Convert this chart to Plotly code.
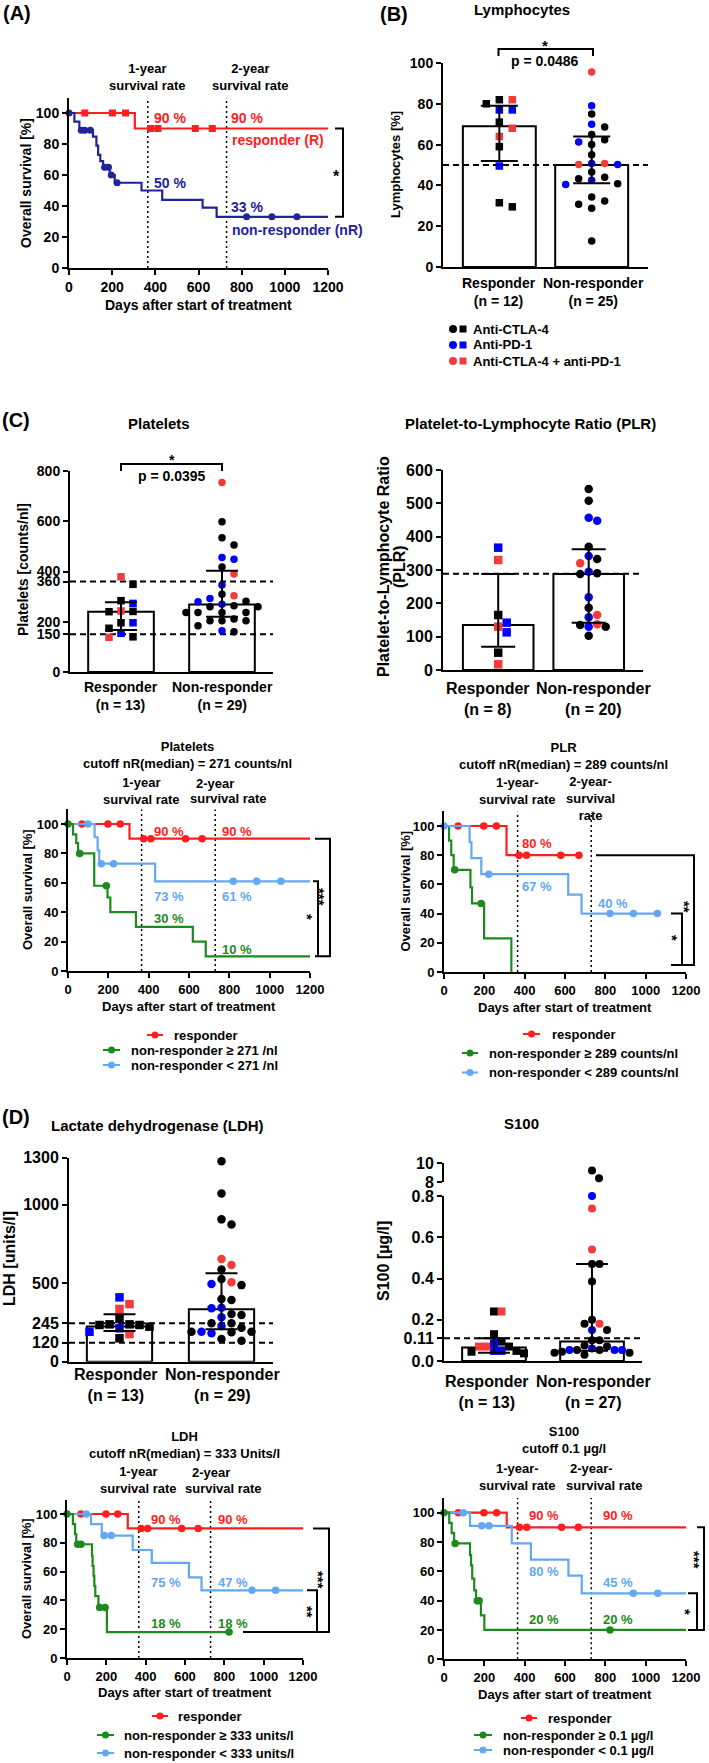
import plotly.graph_objects as go

W, H = 709, 1763
FONT = "Liberation Sans, Arial, sans-serif"
RED = '#FF1E1E'; GREEN = '#1C8A1C'; LBLUE = '#62A8F2'; NAVY = '#22229A'
TX_COL = {'C': '#000000', 'P': '#0000FF', 'B': '#F23C3C'}

# ---------------- DATA ----------------
# Panel A  (Kaplan-Meier responder vs non-responder)
A_R_t = [0, 305, 1200]
A_R_s = [100, 90, 90]
A_R_ct = [73, 201, 262, 378, 412, 585, 664]
A_R_cs = [100, 100, 100, 90, 90, 90, 90]
A_N_t = [0, 25, 48, 111, 127, 135, 145, 158, 189, 212, 336, 432, 619, 684, 1200]
A_N_s = [100, 94.4, 88.9, 84.7, 79, 73, 69, 65, 60, 55, 50, 44, 39, 33, 33]
A_N_ct = [0, 57, 73, 99, 165, 183, 196, 223, 823, 940, 1056]
A_N_cs = [100, 88.9, 88.9, 88.9, 65, 65, 60, 55, 33, 33, 33]

# Panel B  Lymphocytes [%]   (C = anti-CTLA-4, P = anti-PD-1, B = both)
B_med = [69, 50]; B_lo = [52, 41]; B_hi = [79, 64]
B_R_vals = [82, 77, 80, 82, 77, 71, 68, 64, 59, 49.5, 29.5, 31.5]
B_R_tx = ['C', 'P', 'C', 'B', 'P', 'C', 'B', 'B', 'C', 'P', 'C', 'C']
B_N_vals = [95.6, 79, 75, 70, 68.6, 62.4, 65, 61.3, 60, 55, 50.7, 50.2, 50.2, 50.7,
            46.6, 44, 43.3, 42.5, 40.8, 40.5, 34.3, 30.7, 32.4, 28.8, 12.7]
B_N_tx = ['B', 'P', 'C', 'P', 'C', 'C', 'C', 'P', 'C', 'C', 'P', 'B', 'P', 'B',
          'C', 'C', 'C', 'P', 'C', 'P', 'C', 'C', 'C', 'C', 'C']

# Platelets [counts/nl]
P_med = [240, 269]; P_lo = [167, 220]; P_hi = [278, 403]
P_R_vals = [379, 349, 284, 273, 243, 240, 241, 196, 196, 174, 154, 138, 140]
P_R_tx = ['B', 'C', 'C', 'P', 'B', 'C', 'C', 'C', 'P', 'C', 'P', 'B', 'C']
P_N_vals = [754, 598, 534, 505, 449, 456, 418, 390, 346, 309, 303, 293, 282, 280, 270,
            260, 264, 260, 237, 237, 237, 204, 204, 204, 211, 184, 160, 164, 237]
P_N_tx = ['B', 'C', 'C', 'C', 'P', 'P', 'C', 'B', 'P', 'C', 'B', 'P', 'C', 'P', 'P',
          'C', 'C', 'C', 'C', 'C', 'C', 'C', 'C', 'C', 'C', 'C', 'C', 'P', 'C']

# PLR
Q_med = [135, 288]; Q_lo = [70, 142]; Q_hi = [288, 362]
Q_R_vals = [367, 330, 165, 142, 113, 130, 52, 17]
Q_R_tx = ['P', 'B', 'C', 'P', 'P', 'B', 'C', 'B']
Q_N_vals = [543, 508, 457, 448, 370, 342, 333, 320, 288, 290, 295, 218, 187, 165, 158,
            137, 130, 135, 130, 103]
Q_N_tx = ['C', 'C', 'P', 'P', 'C', 'P', 'C', 'B', 'C', 'C', 'P', 'P', 'C', 'B', 'P',
          'B', 'P', 'C', 'C', 'C']

# LDH [units/l]
D_med = [225, 334]; D_lo = [195, 206]; D_hi = [302, 563]
D_R_vals = [410, 336, 367, 238, 213, 234, 149, 238, 191, 234, 176, 223, 272]
D_R_tx = ['P', 'B', 'B', 'C', 'P', 'C', 'C', 'C', 'P', 'C', 'B', 'C', 'C']
D_N_vals = [1278, 1072, 875, 907, 654, 616, 588, 527, 506, 495, 488, 393, 399, 340, 344,
            304, 297, 283, 245, 245, 227, 217, 191, 181, 191, 191, 187, 145, 134]
D_N_tx = ['C', 'C', 'C', 'C', 'B', 'B', 'C', 'C', 'B', 'P', 'C', 'C', 'C', 'P', 'P',
          'C', 'C', 'P', 'C', 'C', 'P', 'C', 'P', 'P', 'C', 'C', 'C', 'C', 'C']

# S100 [ug/l]
S_med = [0.065, 0.095]; S_lo = [0.04, 0.05]; S_hi = [0.11, 0.47]
S_R_vals = [0.24, 0.24, 0.13, 0.094, 0.049, 0.07, 0.049, 0.07, 0.086, 0.07, 0.037, 0.045, 0.049]
S_R_tx = ['C', 'B', 'C', 'C', 'P', 'B', 'P', 'C', 'P', 'B', 'C', 'C', 'C']
S_N_vals = [9.2, 8.4, 0.8, 0.74, 0.54, 0.47, 0.47, 0.385, 0.18, 0.15, 0.18, 0.2, 0.15, 0.10,
            0.10, 0.053, 0.075, 0.06, 0.04, 0.07, 0.053, 0.04, 0.053, 0.03, 0.053, 0.053, 0.045]
S_N_tx = ['C', 'C', 'P', 'B', 'B', 'C', 'C', 'C', 'B', 'P', 'C', 'C', 'C', 'C',
          'C', 'C', 'C', 'P', 'C', 'C', 'C', 'C', 'P', 'C', 'P', 'P', 'C']

# KM Platelets
KP_R_t = [0, 305, 1200]; KP_R_s = [100, 90, 90]
KP_R_ct = [69, 198, 259, 375, 411, 583, 665]; KP_R_cs = [100, 100, 100, 90, 90, 90, 90]
KP_L_t = [0, 132, 147, 155, 432, 1200]; KP_L_s = [100, 91, 82, 73, 61, 61]
KP_L_ct = [99, 165, 226, 820, 936, 1056]; KP_L_cs = [100, 73, 73, 61, 61, 61]
KP_H_t = [0, 25, 41, 50, 130, 196, 210, 337, 619, 683, 1200]
KP_H_s = [100, 93, 87, 80, 58, 50, 40, 30, 20, 10, 10]
KP_H_ct = [0, 58, 190]; KP_H_cs = [100, 80, 58]

# KM PLR
KQ_R_t = [0, 310, 669]; KQ_R_s = [100, 80, 80]
KQ_R_ct = [70, 197, 260, 372, 409, 579, 669]; KQ_R_cs = [100, 100, 100, 80, 80, 80, 80]
KQ_L_t = [0, 127, 136, 185, 616, 682, 1058]; KQ_L_s = [100, 89, 78, 67, 53, 40, 40]
KQ_L_ct = [0, 222, 823, 939, 1058]; KQ_L_cs = [100, 67, 40, 40, 40]
KQ_H_t = [0, 25, 36, 48, 131, 139, 199, 334]; KQ_H_s = [100, 90, 80, 70, 58, 47, 23, 0]
KQ_H_ct = [53, 184]; KQ_H_cs = [70, 47]

# KM LDH
KL_R_t = [0, 309, 1200]; KL_R_s = [100, 90, 90]
KL_R_ct = [71, 198, 258, 377, 410, 583, 667]; KL_R_cs = [100, 100, 100, 90, 90, 90, 90]
KL_L_t = [0, 122, 177, 334, 431, 620, 684, 1200]; KL_L_s = [100, 93, 85, 75, 66, 56, 47, 47]
KL_L_ct = [98, 189, 225, 941, 1061]; KL_L_cs = [100, 85, 85, 47, 47]
KL_H_t = [0, 30, 41, 47, 127, 130, 135, 139, 144, 160, 203, 824]
KL_H_s = [100, 93, 86, 79, 71, 64, 57, 50, 43, 35, 18, 18]
KL_H_ct = [0, 54, 71, 166, 194, 824]; KL_H_cs = [100, 79, 79, 35, 35, 18]

# KM S100
KS_R_t = [0, 311, 1200]; KS_R_s = [100, 90, 90]
KS_R_ct = [71, 198, 261, 374, 410, 583, 666]; KS_R_cs = [100, 100, 100, 90, 90, 90, 90]
KS_L_t = [0, 129, 336, 431, 617, 683, 1200]; KS_L_s = [100, 91, 79, 68, 57, 45, 45]
KS_L_ct = [96, 187, 223, 939, 1060]; KS_L_cs = [100, 91, 91, 45, 45]
KS_H_t = [0, 26, 38, 50, 129, 134, 140, 150, 159, 183, 200, 1200]
KS_H_s = [100, 93, 86, 79, 71, 64, 55, 47, 40, 30, 20, 20]
KS_H_ct = [0, 55, 165, 174, 823]; KS_H_cs = [100, 79, 40, 40, 20]

# ---------------- LAYOUT (pixel boxes) ----------------
SP = {
    'A':   dict(x=(69, 328),  y=(97.5, 268),     xr=(0, 1200),        yr=(0, 110)),
    'B':   dict(x=(443, 648), y=(63, 267),       xr=(-0.61, 1.61),    yr=(0, 100)),
    'PLT': dict(x=(70, 273),  y=(471, 672),      xr=(-0.505, 1.505),  yr=(0, 800)),
    'PLR': dict(x=(443, 643), y=(470, 670),      xr=(-0.61, 1.6),     yr=(0, 600)),
    'KMP': dict(x=(68, 310),  y=(809.3, 971),    xr=(0, 1200),        yr=(0, 110)),
    'KMQ': dict(x=(444, 686), y=(811.4, 972),    xr=(0, 1200),        yr=(0, 110)),
    'LDH': dict(x=(69, 273),  y=(1157.7, 1361.7), xr=(-0.495, 1.505), yr=(0, 1300)),
    'S1':  dict(x=(444, 642), y=(1196, 1361),    xr=(-0.51, 1.51),    yr=(0, 0.8)),
    'KML': dict(x=(67, 303),  y=(1499.6, 1658),  xr=(0, 1200),        yr=(0, 110)),
    'KMS': dict(x=(444, 686), y=(1498, 1659.3),  xr=(0, 1200),        yr=(0, 110)),
}
S_UP = dict(y=(1163, 1182), yr=(8, 10))
ORDER = ['A', 'B', 'PLT', 'PLR', 'KMP', 'KMQ', 'LDH', 'S1', 'KML', 'KMS']
IDX = {k: i + 1 for i, k in enumerate(ORDER)}


def names(k):
    i = IDX[k]
    s = '' if i == 1 else str(i)
    return 'x' + s, 'y' + s


def ypx(k, v):
    t, b = SP[k]['y']; r0, r1 = SP[k]['yr']
    return b - (v - r0) / (r1 - r0) * (b - t)


def PX(x):
    return x / W


def PY(y):
    return 1 - y / H


fig = go.Figure()
ann = []
shapes = []


def T(x, y, text, size, color='black', xanchor='center', yanchor='middle', angle=0):
    ann.append(dict(x=PX(x), y=PY(y), xref='paper', yref='paper', text='<b>' + text + '</b>',
                    showarrow=False, xanchor=xanchor, yanchor=yanchor, textangle=angle,
                    font=dict(family=FONT, size=size, color=color)))


def path(pts, width=2, color='black'):
    d = 'M ' + ' L '.join(f'{PX(x):.5f},{PY(y):.5f}' for x, y in pts)
    shapes.append(dict(type='path', path=d, xref='paper', yref='paper',
                       line=dict(color=color, width=width)))


def circle(cx, cy, d, color):
    shapes.append(dict(type='circle', xref='paper', yref='paper', x0=PX(cx - d / 2), x1=PX(cx + d / 2),
                       y0=PY(cy + d / 2), y1=PY(cy - d / 2), fillcolor=color, line=dict(width=0)))


def rect(cx, cy, d, color):
    shapes.append(dict(type='rect', xref='paper', yref='paper', x0=PX(cx - d / 2), x1=PX(cx + d / 2),
                       y0=PY(cy + d / 2), y1=PY(cy - d / 2), fillcolor=color, line=dict(width=0)))


def swarm(vals, ppu_y, step, coll):
    n = len(vals)
    order = sorted(range(n), key=lambda i: -vals[i])
    placed = []
    off = [0.0] * n
    for i in order:
        yv = vals[i] * ppu_y
        j = 0
        chosen = None
        while chosen is None:
            cands = [0.0] if j == 0 else [j * step, -j * step]
            for c in cands:
                if all((c - px) ** 2 + (yv - py) ** 2 >= coll ** 2 for px, py in placed):
                    chosen = c
                    break
            j += 1
        off[i] = chosen
        placed.append((chosen, yv))
    return off


def add_dots(k, ybox, yname, vals, tx, center, symbol, msize, step, coll):
    xn, _ = names(k)
    ppu_y = (ybox['y'][1] - ybox['y'][0]) / (ybox['yr'][1] - ybox['yr'][0])
    ppu_x = (SP[k]['x'][1] - SP[k]['x'][0]) / (SP[k]['xr'][1] - SP[k]['xr'][0])
    offs = swarm(vals, ppu_y, step, coll)
    xs = [center + o / ppu_x for o in offs]
    fig.add_trace(go.Scatter(x=xs, y=vals, mode='markers', xaxis=xn, yaxis=yname, cliponaxis=False,
                             marker=dict(symbol=symbol, size=msize, color=[TX_COL[t] for t in tx],
                                         line=dict(width=0)), hoverinfo='skip'))


def barplot(k, med, lo, hi, bw, capw, rv, rt, nv, nt, msize, step, coll, refs):
    xn, yn = names(k)
    fig.add_trace(go.Bar(x=[0, 1], y=med, width=bw, xaxis=xn, yaxis=yn,
                         marker=dict(color='white', line=dict(color='black', width=2)), hoverinfo='skip'))
    for r in refs:
        fig.add_trace(go.Scatter(x=list(SP[k]['xr']), y=[r, r], mode='lines', xaxis=xn, yaxis=yn,
                                 line=dict(color='black', width=2, dash='6px,4px'), hoverinfo='skip'))
    add_dots(k, SP[k], yn, rv, rt, 0, 'square', msize, step, coll)
    add_dots(k, SP[k], yn, nv, nt, 1, 'circle', msize, step, coll)
    fig.add_trace(go.Scatter(x=[0, 1], y=med, mode='markers', xaxis=xn, yaxis=yn, cliponaxis=False,
                             marker=dict(size=1, color='rgba(0,0,0,0)'),
                             error_y=dict(type='data', symmetric=False,
                                          array=[h - m for h, m in zip(hi, med)],
                                          arrayminus=[m - l for m, l in zip(med, lo)],
                                          width=capw, thickness=2, color='black'), hoverinfo='skip'))


def km_lines(k):
    xn, yn = names(k)
    for xv in (365, 730):
        fig.add_trace(go.Scatter(x=[xv, xv], y=[0, 110], mode='lines', xaxis=xn, yaxis=yn,
                                 line=dict(color='black', width=1.5, dash='2px,3px'), hoverinfo='skip'))


def km(k, t, s, ct, cs, color, symbol='circle', ms=7.5):
    xn, yn = names(k)
    fig.add_trace(go.Scatter(x=t, y=s, mode='lines', xaxis=xn, yaxis=yn, cliponaxis=False,
                             line=dict(color=color, width=2.2, shape='hv'), hoverinfo='skip'))
    fig.add_trace(go.Scatter(x=ct, y=cs, mode='markers', xaxis=xn, yaxis=yn, cliponaxis=False,
                             marker=dict(color=color, size=ms, symbol=symbol), hoverinfo='skip'))


# ---------------- TRACES ----------------
km_lines('A')
km('A', A_R_t, A_R_s, A_R_ct, A_R_cs, RED, 'square', 7)
km('A', A_N_t, A_N_s, A_N_ct, A_N_cs, NAVY, 'circle', 7)

barplot('B', B_med, B_lo, B_hi, 0.79, 18.5, B_R_vals, B_R_tx, B_N_vals, B_N_tx, 7.5, 13, 8, [50])
barplot('PLT', P_med, P_lo, P_hi, 0.65, 16, P_R_vals, P_R_tx, P_N_vals, P_N_tx, 7.5, 12, 8, [360, 150])
barplot('PLR', Q_med, Q_lo, Q_hi, 0.78, 17, Q_R_vals, Q_R_tx, Q_N_vals, Q_N_tx, 8.5, 8.5, 8.5, [289])
barplot('LDH', D_med, D_lo, D_hi, 0.64, 16, D_R_vals, D_R_tx, D_N_vals, D_N_tx, 8.5, 10, 8.5, [245, 120])

# S100 with broken axis
S_R_low = [v for v in S_R_vals if v <= 1]; S_R_low_tx = [t for v, t in zip(S_R_vals, S_R_tx) if v <= 1]
S_N_low = [v for v in S_N_vals if v <= 1]; S_N_low_tx = [t for v, t in zip(S_N_vals, S_N_tx) if v <= 1]
S_N_up = [v for v in S_N_vals if v > 1]; S_N_up_tx = [t for v, t in zip(S_N_vals, S_N_tx) if v > 1]
barplot('S1', S_med, S_lo, S_hi, 0.65, 16, S_R_low, S_R_low_tx, S_N_low, S_N_low_tx, 8, 7.5, 7.5, [0.11])
add_dots('S1', dict(y=S_UP['y'], yr=S_UP['yr']), 'y11', S_N_up, S_N_up_tx, 1, 'circle', 8, 7, 8)

km_lines('KMP')
km('KMP', KP_R_t, KP_R_s, KP_R_ct, KP_R_cs, RED)
km('KMP', KP_L_t, KP_L_s, KP_L_ct, KP_L_cs, LBLUE)
km('KMP', KP_H_t, KP_H_s, KP_H_ct, KP_H_cs, GREEN)
km_lines('KMQ')
km('KMQ', KQ_R_t, KQ_R_s, KQ_R_ct, KQ_R_cs, RED)
km('KMQ', KQ_H_t, KQ_H_s, KQ_H_ct, KQ_H_cs, GREEN)
km('KMQ', KQ_L_t, KQ_L_s, KQ_L_ct, KQ_L_cs, LBLUE)
km_lines('KML')
km('KML', KL_R_t, KL_R_s, KL_R_ct, KL_R_cs, RED)
km('KML', KL_L_t, KL_L_s, KL_L_ct, KL_L_cs, LBLUE)
km('KML', KL_H_t, KL_H_s, KL_H_ct, KL_H_cs, GREEN)
km_lines('KMS')
km('KMS', KS_R_t, KS_R_s, KS_R_ct, KS_R_cs, RED)
km('KMS', KS_L_t, KS_L_s, KS_L_ct, KS_L_cs, LBLUE)
km('KMS', KS_H_t, KS_H_s, KS_H_ct, KS_H_cs, GREEN)

# ---------------- AXES ----------------
layout = dict(width=W, height=H, margin=dict(l=0, r=0, t=0, b=0), template='none',
              paper_bgcolor='white', plot_bgcolor='rgba(0,0,0,0)', showlegend=False)


def axbase(size):
    return dict(showline=True, linecolor='black', linewidth=2, ticks='outside', ticklen=5, tickwidth=2,
                tickcolor='black', showgrid=False, zeroline=False, automargin=False, fixedrange=True,
                tickfont=dict(family=FONT, size=size, color='black', weight='bold'))


TICKS = {
    'A': (14, [0, 20, 40, 60, 80, 100], None),
    'B': (14, [0, 20, 40, 60, 80, 100], None),
    'PLT': (14, [0, 150, 200, 360, 400, 600, 800], None),
    'PLR': (16, [0, 100, 200, 300, 400, 500, 600], None),
    'KMP': (13, [0, 20, 40, 60, 80, 100], None),
    'KMQ': (13, [0, 20, 40, 60, 80, 100], None),
    'LDH': (16, [0, 120, 245, 500, 1000, 1300], None),
    'S1': (16, [0, 0.11, 0.2, 0.4, 0.6, 0.8], ['0.0', '0.11', '0.2', '0.4', '0.6', '0.8']),
    'KML': (13, [0, 20, 40, 60, 80, 100], None),
    'KMS': (13, [0, 20, 40, 60, 80, 100], None),
}
for k in ORDER:
    i = IDX[k]
    s = '' if i == 1 else str(i)
    sp = SP[k]
    size, tv, tt = TICKS[k]
    xa = axbase(size)
    xa.update(domain=[PX(sp['x'][0]), PX(sp['x'][1])], range=list(sp['xr']), anchor='y' + s)
    if k.startswith('KM') or k == 'A':
        xa.update(tickvals=[0, 200, 400, 600, 800, 1000, 1200])
    else:
        xa.update(ticks='', showticklabels=False)
    ya = axbase(size)
    ya.update(domain=[PY(sp['y'][1]), PY(sp['y'][0])], range=list(sp['yr']), anchor='x' + s, tickvals=tv)
    if tt:
        ya.update(ticktext=tt)
    layout['xaxis' + s] = xa
    layout['yaxis' + s] = ya
yu = axbase(16)
yu.update(domain=[PY(S_UP['y'][1]), PY(S_UP['y'][0])], range=list(S_UP['yr']), anchor='x8', tickvals=[8, 10])
layout['yaxis11'] = yu

# ---------------- TEXT: panel A ----------------
T(1, 13, '(A)', 20, xanchor='left')
T(147, 77, '1-year<br>survival rate', 13)
T(250, 77, '2-year<br>survival rate', 13)
T(152, 118, '90 %', 14, RED, 'left'); T(229, 118, '90 %', 14, RED, 'left')
T(230, 140, 'responder (R)', 14, RED, 'left')
T(152, 183, '50 %', 14, NAVY, 'left'); T(229, 207, '33 %', 14, NAVY, 'left')
T(230, 230, 'non-responder (nR)', 14, NAVY, 'left')
path([(335, ypx('A', 90)), (343, ypx('A', 90)), (343, ypx('A', 33)), (335, ypx('A', 33))])
T(336, 176, '*', 16)
T(198.5, 305, 'Days after start of treatment', 14)
T(26, 183, 'Overall survival [%]', 14, angle=-90)

# ---------------- panel B ----------------
T(378, 14, '(B)', 20, xanchor='left')
T(522, 9, 'Lymphocytes', 15)
path([(498.5, 56), (498.5, 49), (593, 49), (593, 56)])
T(545, 45, '*', 15)
T(545, 61, 'p = 0.0486', 14)
T(499, 291.5, 'Responder<br>(n = 12)', 14)
T(593, 291.5, 'Non-responder<br>(n = 25)', 14)
T(395, 165, 'Lymphocytes [%]', 13, angle=-90)
for yy, lab, c in [(329, 'Anti-CTLA-4', 'C'), (345, 'Anti-PD-1', 'P'), (361, 'Anti-CTLA-4 + anti-PD-1', 'B')]:
    circle(453, yy, 8, TX_COL[c]); rect(463, yy, 7, TX_COL[c])
    T(471, yy, lab, 13, xanchor='left')

# ---------------- panel C bars ----------------
T(0, 420, '(C)', 20, xanchor='left')
T(159, 423, 'Platelets', 15)
path([(121, 471), (121, 464), (222, 464), (222, 471)])
T(172, 460, '*', 14)
T(172, 476, 'p = 0.0395', 14)
T(121, 695.5, 'Responder<br>(n = 13)', 14)
T(222, 695.5, 'Non-responder<br>(n = 29)', 14)
T(23, 570, 'Platelets [counts/nl]', 14, angle=-90)

T(530, 423, 'Platelet-to-Lymphocyte Ratio (PLR)', 15)
T(383, 567, 'Platelet-to-Lymphocyte Ratio', 16, angle=-90)
T(399, 567, '(PLR)', 16, angle=-90)
T(488, 699, 'Responder<br>(n = 8)', 16)
T(593, 699, 'Non-responder<br>(n = 20)', 16)

# ---------------- KM Platelets ----------------
T(188, 754.5, 'Platelets<br>cutoff nR(median) = 271 counts/nl', 13)
T(141, 791, '1-year<br>survival rate', 13)
T(215, 783, '2-year', 13); T(228, 799, 'survival rate', 13)
T(152, 831, '90 %', 13, RED, 'left'); T(220, 831, '90 %', 13, RED, 'left')
T(152, 896, '73 %', 13, LBLUE, 'left'); T(220, 896, '61 %', 13, LBLUE, 'left')
T(152, 919, '30 %', 13, GREEN, 'left'); T(220, 949, '10 %', 13, GREEN, 'left')
path([(315, ypx('KMP', 90)), (330, ypx('KMP', 90)), (330, ypx('KMP', 10)), (315, ypx('KMP', 10))])
path([(313, ypx('KMP', 61)), (318, ypx('KMP', 61)), (318, ypx('KMP', 10))])
T(319, 897, '***', 15, angle=90)
T(308, 917, '*', 15, angle=90)
T(189, 1006, 'Days after start of treatment', 13)
T(27, 890, 'Overall survival [%]', 13, angle=-90)

# ---------------- KM PLR ----------------
T(563, 755.5, 'PLR<br>cutoff nR(median) = 289 counts/nl', 13)
T(517, 790.5, '1-year-<br>survival rate', 13)
T(590, 798.5, '2-year-<br>survival<br>rate', 13)
T(520, 844, '80 %', 13, RED, 'left')
T(520, 887, '67 %', 13, LBLUE, 'left')
T(596, 903, '40 %', 13, LBLUE, 'left')
path([(596, ypx('KMQ', 80)), (694, ypx('KMQ', 80)), (694, 965), (671, 965)])
path([(671, ypx('KMQ', 40)), (682, ypx('KMQ', 40)), (682, 965)])
T(685, 907, '**', 15, angle=90)
T(673, 938, '*', 15, angle=90)
T(565, 1007, 'Days after start of treatment', 13)
T(405, 891.5, 'Overall survival [%]', 13, angle=-90)

# ---------------- legends C ----------------
def km_leg(rows):
    for (x0, x1, tx, yy, col, lab) in rows:
        path([(x0, yy), (x1, yy)], 2, col)
        circle((x0 + x1) / 2, yy, 7, col)
        T(tx, yy, lab, 13, xanchor='left')


km_leg([(147, 163, 172, 1035, RED, 'responder'),
        (103, 120, 129, 1050, GREEN, 'non-responder ≥ 271 /nl'),
        (103, 120, 129, 1065, LBLUE, 'non-responder &lt; 271 /nl')])
km_leg([(523, 540, 550, 1034, RED, 'responder'),
        (462, 478, 487, 1053, GREEN, 'non-responder ≥ 289 counts/nl'),
        (462, 478, 487, 1072.5, LBLUE, 'non-responder &lt; 289 counts/nl')])

# ---------------- panel D bars ----------------
T(0, 1117, '(D)', 20, xanchor='left')
T(157, 1125, 'Lactate dehydrogenase (LDH)', 15)
T(9, 1259, 'LDH [units/l]', 16, angle=-90)
T(116, 1385, 'Responder<br>(n = 13)', 16)
T(222, 1385, 'Non-responder<br>(n = 29)', 16)

T(521, 1123, 'S100', 15)
T(383, 1261, 'S100 [µg/l]', 16, angle=-90)
T(487, 1391.5, 'Responder<br>(n = 13)', 16)
T(593, 1391.5, 'Non-responder<br>(n = 27)', 16)

# ---------------- KM LDH ----------------
T(184, 1445, 'LDH<br>cutoff nR(median) = 333 Units/l', 13)
T(138, 1480, '1-year<br>survival rate', 13)
T(211, 1472, '2-year', 13); T(223.5, 1488, 'survival rate', 13)
T(149, 1519, '90 %', 13, RED, 'left'); T(216, 1519, '90 %', 13, RED, 'left')
T(149, 1582, '75 %', 13, LBLUE, 'left'); T(216, 1582, '47 %', 13, LBLUE, 'left')
T(149, 1623, '18 %', 13, GREEN, 'left'); T(216, 1623, '18 %', 13, GREEN, 'left')
path([(313, ypx('KML', 90)), (329, ypx('KML', 90)), (329, ypx('KML', 18)), (243, ypx('KML', 18))])
path([(307, ypx('KML', 47)), (317, ypx('KML', 47)), (317, ypx('KML', 18))])
T(319, 1580, '***', 15, angle=90)
T(308, 1612, '**', 15, angle=90)
T(185, 1692, 'Days after start of treatment', 13)
T(26, 1579, 'Overall survival [%]', 13, angle=-90)

# ---------------- KM S100 ----------------
T(564, 1440, 'S100<br>cutoff 0.1 µg/l', 13)
T(517, 1476.5, '1-year-<br>survival rate', 13)
T(591, 1468, '2-year-', 13); T(604, 1485, 'survival rate', 13)
T(527, 1515, '90 %', 13, RED, 'left'); T(601, 1515, '90 %', 13, RED, 'left')
T(527, 1571, '80 %', 13, LBLUE, 'left'); T(601, 1582, '45 %', 13, LBLUE, 'left')
T(527, 1619, '20 %', 13, GREEN, 'left'); T(601, 1619, '20 %', 13, GREEN, 'left')
path([(697, ypx('KMS', 90)), (704, ypx('KMS', 90)), (704, ypx('KMS', 20)), (688, ypx('KMS', 20))])
path([(688, ypx('KMS', 45)), (697, ypx('KMS', 45)), (697, ypx('KMS', 20))])
T(695, 1560, '***', 15, angle=90)
T(686, 1612, '*', 15, angle=90)
T(565, 1694, 'Days after start of treatment', 13)

km_leg([(152, 168, 176, 1716, RED, 'responder'),
        (97, 114, 122, 1735, GREEN, 'non-responder ≥ 333 units/l'),
        (97, 114, 122, 1753, LBLUE, 'non-responder &lt; 333 units/l')])
km_leg([(521, 537, 546, 1718, RED, 'responder'),
        (474, 492, 501, 1735, GREEN, 'non-responder ≥ 0.1 µg/l'),
        (474, 492, 501, 1750, LBLUE, 'non-responder &lt; 0.1 µg/l')])

layout['annotations'] = ann
layout['shapes'] = shapes
fig.update_layout(**layout)
fig.write_html("out.html", config={'displayModeBar': False, 'staticPlot': True},
               post_script="document.body.style.margin='0px';document.body.style.overflow='hidden';")
